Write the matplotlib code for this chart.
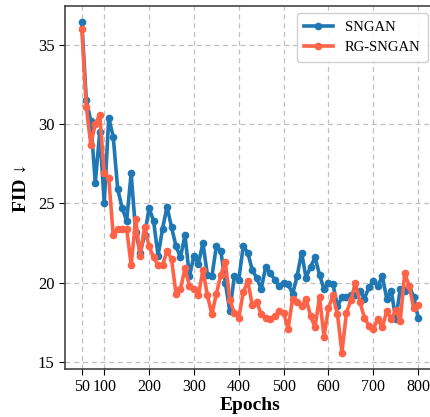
import numpy as np
import matplotlib
matplotlib.use('Agg')
from matplotlib import pyplot as plt

# ========= Dados (FID por epoca)
epochs = list(range(50, 801, 10))

sngan = [36.4, 31.5, 30.2, 26.3, 29.5, 25.0,
         30.4, 29.2, 25.9, 24.7, 23.9, 26.9, 23.2, 21.9, 23.0, 24.7,
         23.9, 21.7, 23.4, 24.8, 23.5, 22.3, 21.6, 23.0, 20.4, 21.7,
         21.2, 22.5, 20.5, 20.4, 22.3, 22.0, 20.0, 18.2, 20.4, 20.2,
         22.3, 21.9, 20.8, 20.3, 19.6, 21.0, 20.6, 20.2, 19.8, 20.0,
         19.9, 19.3, 20.4, 21.9, 20.3, 21.0, 21.6, 20.5, 19.6, 20.0,
         19.9, 18.5, 19.1, 19.1, 19.2, 19.2, 19.5, 19.0, 19.7, 20.1,
         19.8, 20.4, 19.0, 19.5, 17.7, 19.6, 19.5, 19.8, 19.1, 17.8]

rg_sngan = [36.0, 31.1, 28.7, 30.0, 30.6, 26.9,
            26.6, 23.0, 23.4, 23.4, 23.4, 21.1, 24.0, 21.7, 23.5, 22.3,
            21.6, 21.1, 21.1, 22.0, 21.5, 19.3, 19.6, 20.9, 19.8, 19.6,
            19.2, 20.8, 19.2, 18.0, 19.3, 20.5, 21.3, 18.9, 18.1, 17.8,
            19.4, 20.1, 18.6, 18.8, 18.0, 17.8, 17.7, 17.9, 18.2, 18.1,
            17.1, 19.0, 18.8, 18.5, 19.0, 17.9, 17.2, 19.1, 16.6, 18.4,
            19.2, 18.0, 15.6, 18.1, 18.9, 20.0, 18.8, 17.8, 17.3, 17.1,
            17.7, 17.2, 18.2, 17.7, 18.3, 17.6, 20.6, 19.8, 18.4, 18.6]

xticks = [50, 100, 200, 300, 400, 500, 600, 700, 800]
yticks = [15, 20, 25, 30, 35]

# ========= Grafico
plt.rcParams['font.family'] = ['Liberation Serif', 'DejaVu Serif']

fig = plt.figure(figsize=(4.31, 4.17), dpi=100)
# eixo vai um pouco alem da borda direita, como no original
ax = fig.add_axes([65/431, 48/417, 370/431, 363/417])

ax.plot(epochs, sngan, '-o', color='#1f77b4', linewidth=2.6, markersize=4.5, label='SNGAN')
ax.plot(epochs, rg_sngan, '-o', color='#ff6347', linewidth=2.6, markersize=4.5, label='RG-SNGAN')

ax.set_xticks(xticks)
ax.set_yticks(yticks)
ax.tick_params(axis='y', labelsize=12, length=4)
ax.tick_params(axis='x', labelsize=11.5, length=4)
ax.grid(True, linestyle=(0, (4, 3)), color='#c0c0c0', linewidth=0.9)
ax.set_xlabel('Epochs', fontsize=14, fontweight='bold', labelpad=1)
ax.set_ylabel('FID ↓', fontsize=14, fontweight='bold', labelpad=6)
for s in ax.spines.values():
    s.set_color('#444444')
    s.set_linewidth(1.2)

ax.legend(loc='upper right', fontsize=10.5, framealpha=0.9, borderpad=0.5)

fig.savefig('out.png', dpi=100)
